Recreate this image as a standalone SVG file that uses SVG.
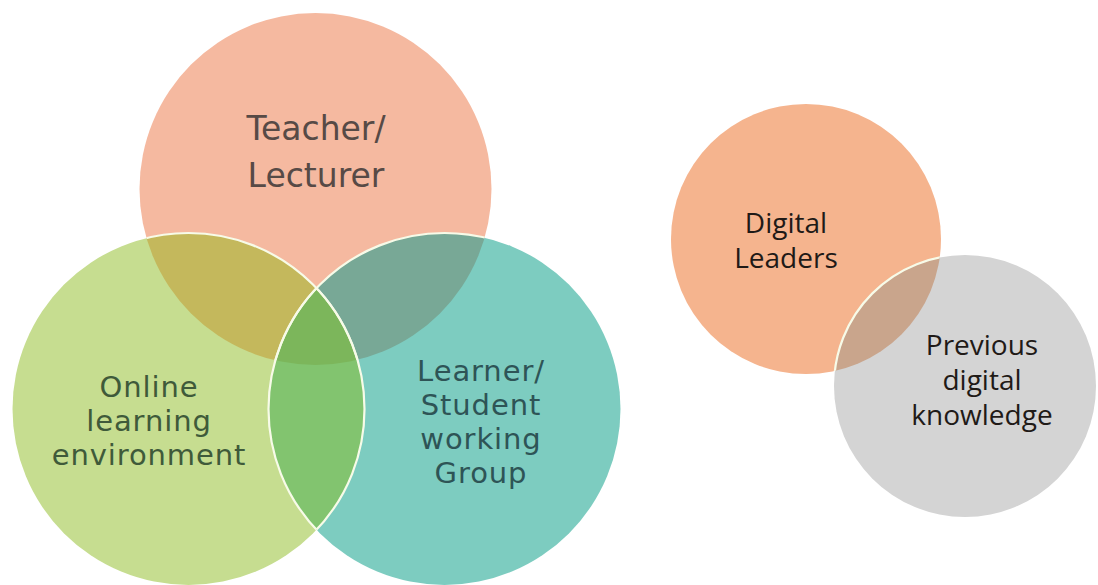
<svg xmlns="http://www.w3.org/2000/svg" width="1098" height="585" viewBox="0 0 1098 585">
  <defs>
    <clipPath id="clipTop"><circle cx="315.5" cy="189" r="176"/></clipPath>
    <clipPath id="clipGreen"><circle cx="188.5" cy="409" r="176"/></clipPath>
    <clipPath id="clipTeal"><circle cx="444.5" cy="409" r="176"/></clipPath>
    <clipPath id="clipDL"><circle cx="806" cy="239" r="135"/></clipPath>
    <style>
      .lbl { font-family: "DejaVu Sans", "Liberation Sans", sans-serif; text-anchor: middle; }
      .sm { font-size: 29px; letter-spacing: 0.9px; }
      .lbl2 { font-family: "Open Sans", "Liberation Sans", sans-serif; text-anchor: middle; font-size: 28px; fill: #1f1a17; }
      .edge { fill: none; stroke: #f7fbe8; stroke-width: 2.2; }
    </style>
  </defs>
  <rect width="1098" height="585" fill="#ffffff"/>

  <g id="teacher">
    <circle cx="315.5" cy="189" r="176" fill="#f5b9a0"/>
  </g>
  <g id="online-env">
    <circle cx="188.5" cy="409" r="176" fill="#c6dd90"/>
  </g>
  <g id="learner">
    <circle cx="444.5" cy="409" r="176" fill="#7dccc0"/>
  </g>

  <g id="overlaps">
    <circle cx="188.5" cy="409" r="176" fill="#c4b85c" clip-path="url(#clipTop)"/>
    <circle cx="444.5" cy="409" r="176" fill="#78a896" clip-path="url(#clipTop)"/>
    <circle cx="444.5" cy="409" r="176" fill="#82c46f" clip-path="url(#clipGreen)"/>
    <g clip-path="url(#clipTop)">
      <circle cx="444.5" cy="409" r="176" fill="#7cb65b" clip-path="url(#clipGreen)"/>
    </g>
    <circle class="edge" cx="188.5" cy="409" r="176" clip-path="url(#clipTop)"/>
    <circle class="edge" cx="188.5" cy="409" r="176" clip-path="url(#clipTeal)"/>
    <circle class="edge" cx="444.5" cy="409" r="176" clip-path="url(#clipTop)"/>
    <circle class="edge" cx="444.5" cy="409" r="176" clip-path="url(#clipGreen)"/>
  </g>

  <g id="labels-venn">
    <g id="teacher-label">
      <text class="lbl" x="316" y="140" font-size="33" fill="#574a46">Teacher/</text>
      <text class="lbl" x="316" y="187" font-size="33" fill="#574a46">Lecturer</text>
    </g>
    <g id="online-label">
      <text class="lbl sm" x="149" y="397" fill="#3f5a3a">Online</text>
      <text class="lbl sm" x="149" y="431" fill="#3f5a3a">learning</text>
      <text class="lbl sm" x="149" y="465" fill="#3f5a3a">environment</text>
    </g>
    <g id="learner-label">
      <text class="lbl sm" x="481" y="381" fill="#2e5456">Learner/</text>
      <text class="lbl sm" x="481" y="415" fill="#2e5456">Student</text>
      <text class="lbl sm" x="481" y="449" fill="#2e5456">working</text>
      <text class="lbl sm" x="481" y="483" fill="#2e5456">Group</text>
    </g>
  </g>

  <g id="digital-leaders">
    <circle cx="806" cy="239" r="135" fill="#f5b48e"/>
  </g>
  <g id="previous-knowledge">
    <circle cx="965" cy="386" r="131" fill="#d4d4d4"/>
    <circle cx="965" cy="386" r="131" fill="#c9a58c" clip-path="url(#clipDL)"/>
    <circle class="edge" cx="965" cy="386" r="131" stroke="#f4efe8" clip-path="url(#clipDL)"/>
  </g>
  <g id="labels-right">
    <text class="lbl2" x="786" y="233">Digital</text>
    <text class="lbl2" x="786" y="268">Leaders</text>
    <text class="lbl2" x="982" y="355">Previous</text>
    <text class="lbl2" x="982" y="390">digital</text>
    <text class="lbl2" x="982" y="425">knowledge</text>
  </g>
  <g id="connectors"/>
</svg>
